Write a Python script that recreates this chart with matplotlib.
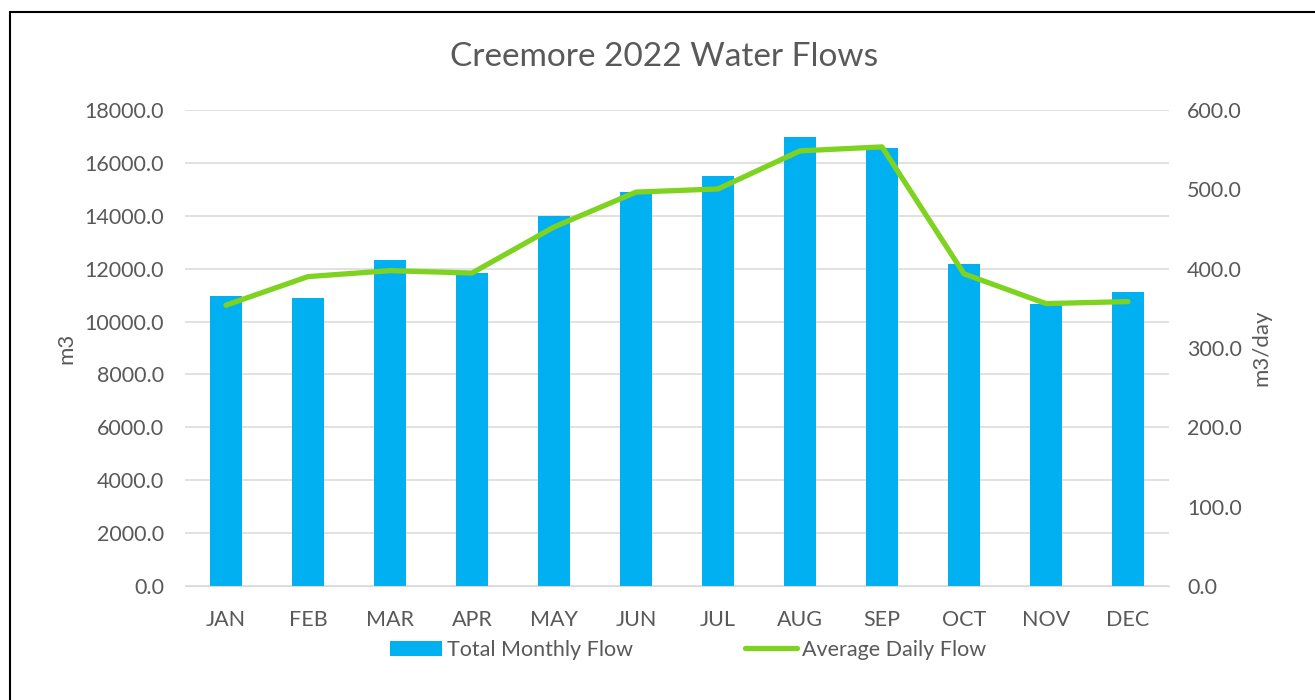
import matplotlib
matplotlib.use("Agg")
import matplotlib.pyplot as plt
from matplotlib.patches import Rectangle
from matplotlib.ticker import FuncFormatter, MultipleLocator

months = ["JAN", "FEB", "MAR", "APR", "MAY", "JUN", "JUL", "AUG", "SEP", "OCT", "NOV", "DEC"]
total_monthly = [10960, 10880, 12310, 11830, 14010, 14890, 15500, 16980, 16580, 12170, 10670, 11110]
avg_daily = [354, 390, 397.5, 394.5, 452.5, 496.5, 500.5, 548.5, 553.5, 393.5, 356, 358.5]

plt.rcParams['font.family'] = ['Lato', 'DejaVu Sans']
txt = '#595959'
fs = 15.5
fig = plt.figure(figsize=(13.15, 7.0), dpi=100)
ax = fig.add_axes([185/1315, 1-586/700, (1169-185)/1315, (586-110)/700])
ax2 = ax.twinx()

x = list(range(len(months)))
bars = ax.bar(x, total_monthly, width=0.40, color='#00B0F0', zorder=2, label='Total Monthly Flow')
line, = ax2.plot(x, avg_daily, color='#7ED321', lw=3.8, solid_capstyle='round', solid_joinstyle='round', zorder=3, label='Average Daily Flow')

ax.set_xlim(-0.5, 11.5)
ax.set_ylim(0, 18000)
ax2.set_ylim(0, 600)
ax.yaxis.set_major_locator(MultipleLocator(2000))
ax2.yaxis.set_major_locator(MultipleLocator(100))
ax.yaxis.set_major_formatter(FuncFormatter(lambda v, p: f"{v:.1f}"))
ax2.yaxis.set_major_formatter(FuncFormatter(lambda v, p: f"{v:.1f}"))
ax.grid(axis='y', color='#D9D9D9', lw=1.1, zorder=0)
ax.set_axisbelow(True)
ax.set_xticks(x)
ax.set_xticklabels(months)
for a in (ax, ax2):
    for s in a.spines.values():
        s.set_visible(False)
    a.tick_params(length=0, labelsize=fs, colors=txt)
ax.spines['bottom'].set_visible(True)
ax.spines['bottom'].set_color('#D9D9D9')
ax.tick_params(axis='x', pad=17)
ax.tick_params(axis='y', pad=15)
ax2.tick_params(axis='y', pad=13)
ax.set_ylabel('m3', fontsize=16, color=txt, labelpad=6)
ax2.set_ylabel('m3/day', fontsize=16, color=txt, labelpad=7)
ax2.set_zorder(ax.get_zorder() + 1)
ax2.patch.set_visible(False)

fig.text(664/1315, 1-57/700, 'Creemore 2022 Water Flows', ha='center', va='center', fontsize=24, color=txt)

fig.legend([bars, line], ['Total Monthly Flow', 'Average Daily Flow'], loc='center',
           bbox_to_anchor=(688/1315, 1-650/700), ncol=2, frameon=False, fontsize=15.5,
           handlelength=2.42, handletextpad=0.23, columnspacing=5.2, labelcolor=txt)

fig.add_artist(Rectangle((9.5/1315, -0.1), 1.2, 1.1 - 11.5/700, transform=fig.transFigure,
                         fill=False, edgecolor='black', lw=1.5))

fig.savefig('out.png', dpi=100)
